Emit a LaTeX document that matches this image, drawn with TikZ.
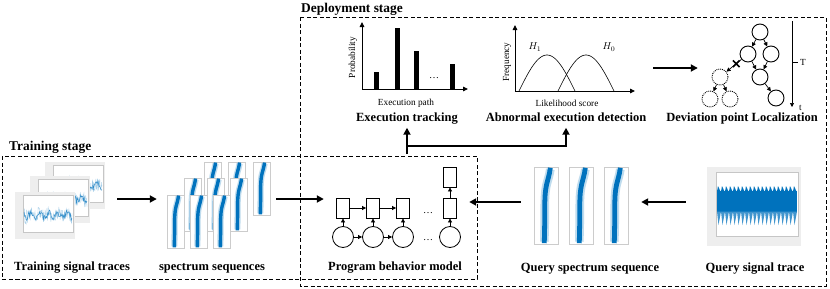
\documentclass[tikz,border=0pt]{standalone}
\usepackage{fontspec}
\setmainfont{Liberation Serif}
\usetikzlibrary{arrows.meta,positioning,shapes.misc}
\definecolor{sblue}{RGB}{0,114,189}
\definecolor{sframe}{RGB}{238,238,238}

% one small signal plot, top-left corner at (#1,#2)
\newcommand{\sigplot}[2]{%
  \begin{scope}[shift={(#1,#2)}]
    \fill[sframe] (0,0) rectangle (60,47);
    \fill[white] (8,3) rectangle (58,40);
    \draw[gray!45, line width=0.2pt] (8,3) rectangle (58,40);
    \draw[sblue!35, line width=0.35pt] plot[domain=9:57, samples=110] (\x,{23+2*sin(\x*40)+7*rand});
    \draw[sblue!80, line width=0.5pt] plot[domain=9:57, samples=70] (\x,{23+2*sin(\x*40)+3.5*rand});
  \end{scope}}

% one spectrum strip: x, y, width, height
\newcommand{\specpanel}[4]{%
  \begin{scope}[shift={(#1,#2)}, x=#3pt, y=-#4pt]
    \filldraw[fill=white, draw=gray!40, line width=0.3pt] (0,0) rectangle (1,1);
    \draw[sblue!25, line width=#3*0.36pt]
      (0.68,0.03) .. controls (0.6,0.2) and (0.45,0.2) .. (0.45,0.5) .. controls (0.45,0.8) and (0.43,0.9) .. (0.43,0.97);
    \draw[sblue, line width=#3*0.2pt]
      (0.68,0.01) .. controls (0.6,0.2) and (0.45,0.2) .. (0.45,0.5) .. controls (0.45,0.8) and (0.43,0.9) .. (0.43,0.99);
  \end{scope}}

\begin{document}
\begin{tikzpicture}[x=1pt, y=-1pt,
    stagebox/.style={draw, line width=1pt, dash pattern=on 4pt off 2.5pt},
    stagelbl/.style={font=\fontsize{13.4}{15}\selectfont\bfseries, inner sep=0pt, anchor=west},
    lbl/.style={font=\fontsize{12.5}{14}\selectfont\bfseries, text height=8.5pt, text depth=2.7pt},
    small/.style={font=\fontsize{9.3}{11}\selectfont},
    grp/.style={inner sep=0pt},
    cell/.style={draw, line width=0.8pt, minimum width=13pt, minimum height=20pt, inner sep=0pt},
    hid/.style={circle, draw, line width=0.8pt, minimum size=21pt, inner sep=0pt},
    circ/.style={circle, draw, line width=0.9pt, minimum size=16pt, inner sep=0pt},
    dcirc/.style={circ, densely dotted},
    arr/.style={-{Triangle[length=7pt,width=7pt]}, line width=2.2pt},
    tarr/.style={-{Triangle[length=4pt,width=4pt]}, line width=0.7pt},
    axis/.style={-{Triangle[length=5pt,width=4.5pt]}, line width=0.9pt},
  ]
  \useasboundingbox (0,0) rectangle (830,289);
  \pgfmathsetseed{7}

  % stages
  \draw[stagebox] (2,156) rectangle (477,279);
  \draw[stagebox] (300,17) rectangle (826,286);
  \node[stagelbl] (trainstage) at (9,147) {Training stage};
  \node[stagelbl] (deploystage) at (301,9.5) {Deployment stage};

  % training signal traces
  \sigplot{45}{162}
  \sigplot{30}{176}
  \sigplot{15}{192}
  \node[grp, minimum width=89pt, minimum height=78pt] (trainsig) at (59.5,199) {};

  % spectrum sequences
  \foreach \px/\py in {204/162, 228/162, 253/162, 184/178, 207/178, 230/178, 167/195, 190/195, 213/195}
    \specpanel{\px}{\py}{17}{53};
  \node[grp, minimum width=102pt, minimum height=86pt] (trainspec) at (218,199) {};

  % program behavior model
  \node[cell] (cA) at (343,208) {};
  \node[cell] (cB) at (373,208) {};
  \node[cell] (cC) at (403,208) {};
  \node[cell] (cD) at (450,208) {};
  \node[cell] (cE) at (450,177) {};
  \node[hid] (hA) at (343,237) {};
  \node[hid] (hB) at (373,237) {};
  \node[hid] (hC) at (403,237) {};
  \node[hid] (hD) at (450,237) {};
  \foreach \n in {A,B,C,D} \draw[tarr] (h\n) -- (c\n);
  \draw[tarr] (cA) -- (cB);
  \draw[tarr] (cB) -- (cC);
  \draw[tarr] (hA) -- (hB);
  \draw[tarr] (hB) -- (hC);
  \draw[tarr] (cD) -- (cE);
  \node (dotsc) at (428,213) {\dots};
  \node (dotsh) at (428,240) {\dots};
  \node[grp, minimum width=145pt, minimum height=80pt] (model) at (396.5,208) {};

  % query spectrum sequence
  \foreach \px in {534,569,604} \specpanel{\px}{167}{24}{77};
  \node[grp, minimum width=94pt, minimum height=77pt] (qspec) at (581,202) {};

  % query signal trace
  \begin{scope}[shift={(707,167)}]
    \fill[sframe] (0,0) rectangle (94,79);
    \fill[white] (9,5) rectangle (91,69);
    \draw[gray!45, line width=0.2pt] (9,5) rectangle (91,69);
    \fill[sblue] (10,24) rectangle (90,45);
    \foreach \i in {0,...,19} {
      \fill[sblue] (10+\i*4,24.5) -- (11+\i*4,19) -- (13.5+\i*4,24.5) -- cycle;
      \fill[sblue!75] (10+\i*4,44.5) -- (11.5+\i*4,58) -- (14+\i*4,44.5) -- cycle;
    }
  \end{scope}
  \node[grp, minimum width=94pt, minimum height=79pt] (qsig) at (754,202) {};

  % execution tracking chart
  \draw[axis] (362,89) -- (362,22);
  \draw[axis] (362,89) -- (468,89);
  \foreach \bx/\by in {376/72, 397/28, 416/51, 452/64}
    \fill (\bx-2.5,\by) rectangle (\bx+2.5,89);
  \node (bardots) at (434,78) {\dots};
  \node[small, rotate=90] (problbl) at (353,57.5) {Probability};
  \node[small] (pathlbl) at (406,103) {Execution path};

  % abnormal execution detection chart
  \draw[axis] (515,91) -- (515,25);
  \draw[axis] (515,91) -- (635,91);
  \draw[line width=0.6pt] plot[domain=519:575, samples=40] (\x,{91-36*sin(180*(\x-519)/56)});
  \draw[line width=0.6pt] plot[domain=558:614, samples=40] (\x,{91-36*sin(180*(\x-558)/56)});
  \node (hone) at (535,47) {$H_1$};
  \node (hzero) at (609,47) {$H_0$};
  \node[small, rotate=90] (freqlbl) at (507,62) {Frequency};
  \node[small] (scorelbl) at (567,103) {Likelihood score};
  \node[grp, minimum width=136pt, minimum height=50pt] (abnchart) at (568,68) {};

  % deviation point tree
  \node[circ] (t0) at (760,32) {};
  \node[circ] (t1) at (748,54) {};
  \node[circ] (t2) at (771,54) {};
  \node[circ] (t3) at (760,77) {};
  \node[circ] (t4) at (776,98) {};
  \node[dcirc] (d0) at (720,77) {};
  \node[dcirc] (d1) at (710,99) {};
  \node[dcirc] (d2) at (730,99) {};
  \draw[tarr] (t0) -- (t1);
  \draw[tarr] (t0) -- (t2);
  \draw[tarr] (t1) -- (t3);
  \draw[tarr] (t2) -- (t3);
  \draw[tarr] (t3) -- (t4);
  \draw[tarr] (t1) -- node[pos=0.35, cross out, draw, line width=1.6pt, minimum size=5pt, inner sep=0pt] (cut) {} (d0);
  \draw[tarr] (d0) -- (d1);
  \draw[tarr] (d0) -- (d2);
  \draw[tarr] (792,21) -- (792,107);
  \draw[line width=0.7pt] (792,62) -- (798,62);
  \node[small, anchor=west, inner sep=1pt] (bigT) at (799,62) {T};
  \node[small, anchor=west, inner sep=1pt] (smallt) at (798,108) {t};
  \node[grp, minimum width=112pt, minimum height=90pt] (devtree) at (756,68) {};

  % labels
  \node[lbl] (trainlbl) at (72,268) {Training signal traces};
  \node[lbl] (speclbl) at (212,268) {spectrum sequences};
  \node[lbl] (modellbl) at (395,268) {Program behavior model};
  \node[lbl] (qspeclbl) at (590,268.5) {Query spectrum sequence};
  \node[lbl] (qsiglbl) at (755,268.5) {Query signal trace};
  \node[lbl] (execlbl) at (407,118.6) {Execution tracking};
  \node[lbl] (abnlbl) at (566,118.6) {Abnormal execution detection};
  \node[lbl] (devlbl) at (742,119) {Deviation point Localization};

  % flow
  \draw[arr, shorten <=13pt, shorten >=10pt] (trainsig.east) -- (trainsig.east -| trainspec.west);
  \draw[arr, shorten <=7pt] (trainspec.east) -- (trainspec.east -| model.west);
  \draw[arr, shorten <=13pt] (qspec.west) -- (qspec.west -| model.east);
  \draw[arr, shorten <=21pt, shorten >=13pt] (qsig.west) -- (qsig.west -| qspec.east);
  \draw[arr, shorten <=17pt, shorten >=2pt] (abnchart.east) -- (devtree.west);
  \coordinate (fbstart) at (407,154);
  \coordinate (fbjoin) at (407,146);
  \draw[arr] (fbstart) -- (fbstart |- execlbl.south);
  \draw[arr] (fbjoin) -| (abnlbl.south);
\end{tikzpicture}
\end{document}
